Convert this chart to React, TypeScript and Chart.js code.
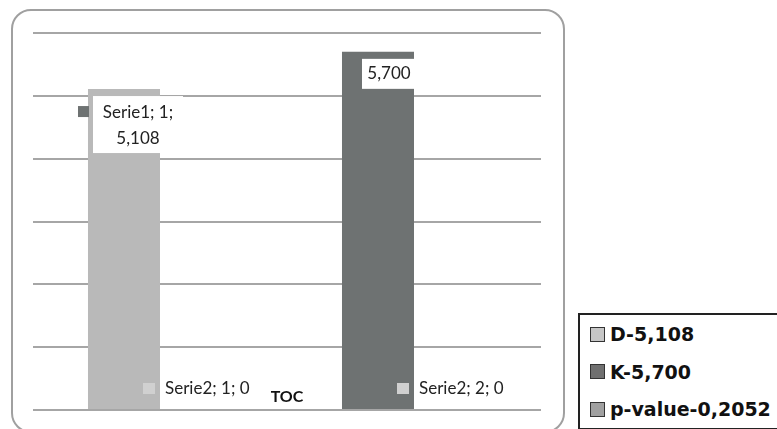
import React, { useEffect, useRef } from "react";
import { Chart, registerables } from "chart.js";

Chart.register(...registerables);

const categories = ["1", "2"];
const serie1Values = [5.108, 5.7];
const serie2Values = [0, 0];
const yTicks = [0, 1, 2, 3, 4, 5, 6];
const axisTitle = "TOC";
const legendLabels = ["D-5,108", "K-5,700", "p-value-0,2052"];
const legendColors = ["#c6c6c6", "#707070", "#a0a0a0"];
const serie1Colors = ["#b9b9b9", "#6e7272"];
const serie2Color = "#d0d0d0";

const fmt = (v: number) => (v === 0 ? "0" : v.toFixed(3).replace(".", ","));
const FONT = "Lato, 'Open Sans', sans-serif";

const labelPlugin = {
  id: "customLabels",
  afterDatasetsDraw(chart: any) {
    const ctx = chart.ctx as CanvasRenderingContext2D;
    const m1 = chart.getDatasetMeta(0).data;
    const m2 = chart.getDatasetMeta(1).data;
    ctx.save();
    ctx.textBaseline = "middle";
    ctx.font = `17px ${FONT}`;
    {
      const b = m1[0];
      const left = b.x - b.width / 2;
      const bx = left + 5;
      const by = b.y + 7;
      ctx.fillStyle = "#ffffff";
      ctx.fillRect(bx, by, 90, 57);
      ctx.fillStyle = serie1Colors[1];
      ctx.fillRect(left - 10, by + 10, 11, 11);
      ctx.fillStyle = "#222";
      ctx.textAlign = "center";
      ctx.fillText(`Serie1; ${categories[0]};`, bx + 45, by + 16);
      ctx.fillText(fmt(serie1Values[0]), bx + 45, by + 42);
    }
    {
      const b = m1[1];
      const left = b.x - b.width / 2;
      const bx = left + 20;
      const by = b.y + 7;
      ctx.fillStyle = "#ffffff";
      ctx.fillRect(bx, by, 53, 30);
      ctx.fillStyle = "#222";
      ctx.textAlign = "center";
      ctx.fillText(fmt(serie1Values[1]), bx + 27, by + 15);
    }
    m2.forEach((b: any, i: number) => {
      ctx.fillStyle = serie2Color;
      ctx.fillRect(b.x - 53, b.y - 27, 12, 11);
      ctx.fillStyle = "#222";
      ctx.textAlign = "left";
      ctx.fillText(`Serie2; ${categories[i]}; ${fmt(serie2Values[i])}`, b.x - 31, b.y - 21);
    });
    const ca = chart.chartArea;
    ctx.font = `bold 16px ${FONT}`;
    ctx.textAlign = "center";
    ctx.fillStyle = "#111";
    ctx.fillText(axisTitle, (ca.left + ca.right) / 2, ca.bottom - 13);
    ctx.restore();
  },
};

export default function App() {
  const ref = useRef<HTMLCanvasElement>(null);
  useEffect(() => {
    if (!ref.current) return;
    const chart = new Chart(ref.current, {
      type: "bar",
      data: {
        labels: categories,
        datasets: [
          {
            label: "Serie1",
            data: serie1Values,
            backgroundColor: serie1Colors,
            categoryPercentage: 0.567,
            barPercentage: 1,
          },
          {
            label: "Serie2",
            data: serie2Values,
            backgroundColor: serie2Color,
            categoryPercentage: 0.567,
            barPercentage: 1,
          },
        ],
      },
      options: {
        responsive: false,
        animation: false,
        layout: { padding: { left: 20, right: 20, top: 22, bottom: 15 } },
        plugins: { legend: { display: false }, tooltip: { enabled: false } },
        scales: {
          x: { display: false },
          y: {
            min: yTicks[0],
            max: yTicks[yTicks.length - 1],
            ticks: { display: false, stepSize: 1 },
            grid: { color: "#a6a6a6", lineWidth: 2, drawTicks: false },
            border: { display: false },
          },
        },
      },
      plugins: [labelPlugin],
    });
    return () => chart.destroy();
  }, []);

  return (
    <div style={{ position: "absolute", left: 0, top: 0, width: 777, height: 429, overflow: "hidden", background: "#fff" }}>
      <div
        style={{
          position: "absolute",
          left: 11,
          top: 9,
          width: 550,
          height: 420,
          border: "2px solid #a0a0a0",
          borderRadius: 20,
          boxSizing: "content-box",
        }}
      />
      <canvas ref={ref} width={548} height={414} style={{ position: "absolute", left: 13, top: 11 }} />
      <div
        style={{
          position: "absolute",
          left: 578,
          top: 313,
          width: 220,
          height: 113,
          border: "2px solid #222",
          background: "#fff",
          fontFamily: "'DejaVu Sans', Verdana, sans-serif",
          fontWeight: "bold",
          fontSize: 19,
          color: "#111",
        }}
      >
        {legendLabels.map((l, i) => (
          <div
            key={l}
            style={{
              position: "absolute",
              left: 10,
              top: 9 + i * 37.5,
              height: 20,
              display: "flex",
              alignItems: "center",
              whiteSpace: "nowrap",
            }}
          >
            <span
              style={{
                display: "inline-block",
                width: 13,
                height: 13,
                background: legendColors[i],
                border: "1.5px solid #333",
                marginRight: 5,
              }}
            />
            <span>{l}</span>
          </div>
        ))}
      </div>
    </div>
  );
}
